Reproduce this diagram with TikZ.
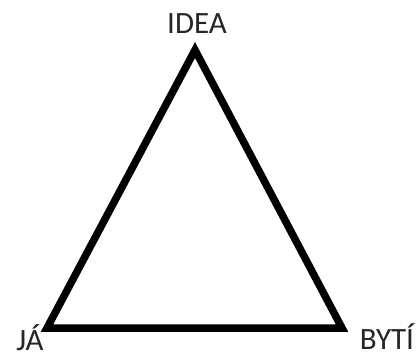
\documentclass[tikz,border=0pt]{standalone}
\usepackage{fontspec}
\setmainfont{Carlito}
\begin{document}
\begin{tikzpicture}[x=1pt,y=-1pt,
  lbl/.style={inner sep=0pt,anchor=base,text depth=0pt,font=\fontsize{31}{31}\selectfont,text=black!85}]
\useasboundingbox (0,0) rectangle (417,354);
\coordinate (top) at (195,50);
\coordinate (bl) at (47,328);
\coordinate (br) at (342,328);
\draw[line width=7.5pt,line join=miter] (top) -- (bl) -- (br) -- cycle;
\node[lbl] (idea) at (197,33) {IDEA};
\node[lbl] (ja) at (30,350) {JÁ};
\node[lbl] (byti) at (387,349) {BYTÍ};
\end{tikzpicture}
\end{document}
